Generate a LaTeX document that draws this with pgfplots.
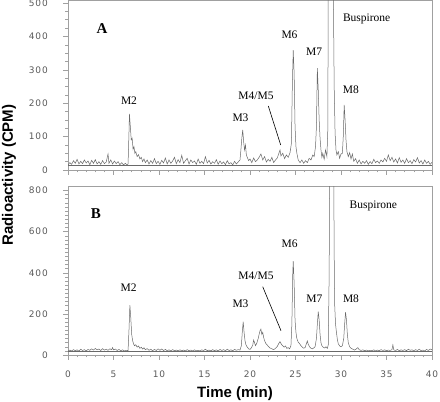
\documentclass[border=0pt]{standalone}
\usepackage{pgfplots}
\pgfplotsset{compat=1.18}
\usepackage{fontspec}
\setmainfont{Liberation Serif}
\newfontfamily\tickfont[LetterSpace=10]{DejaVu Sans}
\newfontfamily\labfont{Liberation Sans}
\definecolor{framec}{RGB}{160,160,160}
\definecolor{trace}{RGB}{105,105,105}
\definecolor{ticktext}{RGB}{90,90,90}
\pgfplotsset{chrom/.style={
  scale only axis, width=364bp, xmin=0, xmax=40,
  axis line style={draw=framec, line width=0.6bp},
  tick style={draw=framec, line width=0.5bp}, tick align=outside,
  major tick length=5bp, minor tick length=2.5bp,
  xtick={0,5,...,40}, minor x tick num=4,
  xtick pos=bottom, ytick pos=left,
  tick label style={font=\tickfont\fontsize{9bp}{10bp}\selectfont, text=ticktext},
  /pgf/number format/assume math mode=true,
  yticklabel style={anchor=east, inner sep=0pt},
  yticklabel shift=15bp,
  xticklabel style={anchor=north, inner sep=0pt},
  xticklabel shift=11bp,
  cycle list={{draw=trace, line width=0.5bp, mark=none}},
}}
\begin{document}
\begin{tikzpicture}
\path[use as bounding box] (0,0) rectangle (440bp,402bp);
% Panel A
\begin{axis}[chrom, at={(68bp,232bp)}, anchor=south west, height=170bp,
  ymin=0, ymax=509, ytick={0,100,...,500}, minor y tick num=3, xticklabels={}]
\addplot[draw=trace, line width=0.5bp, mark=none] coordinates {(0,15) (40,15)};
\addplot[draw=trace, line width=0.5bp, mark=none] table {
0.0 15
0.2 22
0.4 17
0.6 28
0.8 20
1.0 32
1.2 18
1.4 26
1.6 19
1.8 30
2.0 21
2.2 27
2.4 16
2.6 29
2.8 20
3.0 31
3.2 18
3.4 25
3.6 17
3.8 28
4.0 19
4.2 24
4.4 48
4.5 20
4.7 30
4.9 18
5.1 27
5.3 19
5.5 25
5.7 16
5.9 22
6.1 15
6.3 20
6.5 15
6.6 18
6.7 110
6.75 168
6.85 130
6.95 90
7.05 95
7.15 62
7.25 70
7.35 50
7.45 55
7.6 40
7.75 46
7.9 33
8.05 38
8.2 25
8.35 33
8.5 22
8.7 30
8.9 18
9.1 28
9.3 20
9.5 34
9.7 19
9.9 26
10.1 17
10.3 29
10.5 21
10.7 36
10.9 18
11.1 30
11.3 20
11.5 27
11.7 38
11.9 19
12.1 31
12.3 22
12.5 44
12.7 20
12.9 28
13.1 35
13.3 18
13.5 30
13.7 22
13.9 27
14.1 17
14.3 33
14.5 20
14.7 26
14.9 19
15.1 40
15.3 21
15.5 29
15.7 18
15.9 25
16.1 20
16.3 31
16.5 17
16.7 27
16.9 19
17.1 24
17.3 16
17.5 28
17.7 18
17.9 22
18.1 15
18.3 26
18.5 18
18.7 24
18.9 30
19.0 60
19.1 95
19.2 120
19.3 85
19.4 60
19.5 75
19.6 45
19.7 38
19.85 28
20.0 33
20.2 22
20.4 36
20.6 25
20.8 30
21.0 38
21.2 48
21.4 30
21.6 40
21.8 24
22.0 32
22.2 26
22.4 38
22.6 22
22.8 30
23.0 36
23.2 52
23.3 60
23.4 42
23.6 50
23.8 34
24.0 45
24.2 38
24.4 52
24.55 80
24.65 250
24.75 359
24.85 290
24.95 130
25.05 70
25.15 50
25.3 30
25.5 22
25.7 30
25.9 20
26.1 28
26.3 22
26.5 35
26.7 30
26.9 45
27.05 40
27.2 70
27.3 130
27.4 305
27.5 240
27.6 150
27.7 95
27.8 60
27.9 38
28.0 50
28.15 32
28.3 60
28.45 40
28.55 120
28.6 560
29.15 560
29.25 250
29.35 110
29.45 60
29.55 45
29.7 55
29.85 35
30.0 48
30.15 50
30.25 100
30.35 195
30.45 150
30.55 90
30.65 55
30.8 40
30.95 52
31.1 33
31.25 48
31.4 26
31.6 34
31.8 20
32.0 30
32.2 18
32.4 26
32.6 20
32.8 28
33.0 17
33.2 25
33.4 19
33.6 32
33.8 22
34.0 27
34.2 20
34.4 30
34.6 24
34.8 35
35.0 26
35.2 45
35.4 28
35.6 38
35.8 24
36.0 33
36.2 21
36.4 37
36.6 23
36.8 30
37.0 20
37.2 34
37.4 22
37.6 28
37.8 19
38.0 31
38.2 24
38.4 37
38.6 21
38.8 28
39.0 18
39.2 30
39.4 20
39.6 26
39.8 17
40.0 23
};
\end{axis}
% Panel B
\begin{axis}[chrom, at={(68bp,47bp)}, anchor=south west, height=169bp,
  ymin=0, ymax=822, ytick={0,200,...,800}, minor y tick num=9]
\addplot[draw=trace, line width=0.5bp, mark=none] coordinates {(0,19) (40,19)};
\addplot[draw=trace, line width=0.5bp, mark=none] table {
0.0 19
0.2 24
0.4 20
0.6 26
0.8 21
1.0 25
1.2 19
1.4 28
1.6 22
1.8 26
2.0 20
2.2 27
2.4 23
2.6 30
2.8 24
3.0 32
3.2 25
3.4 29
3.6 22
3.8 31
4.0 24
4.2 28
4.4 23
4.6 30
4.8 26
4.9 36
5.0 25
5.2 29
5.4 22
5.6 27
5.8 21
6.0 25
6.2 20
6.4 23
6.6 21
6.7 120
6.8 243
6.9 180
7.0 100
7.1 70
7.2 55
7.3 45
7.45 50
7.6 38
7.75 44
7.9 32
8.05 38
8.2 29
8.35 35
8.5 26
8.7 31
8.9 23
9.1 28
9.3 21
9.5 27
9.7 22
9.9 30
10.1 23
10.3 29
10.5 22
10.7 27
10.9 21
11.1 25
11.3 20
11.5 26
11.7 21
11.9 24
12.1 20
12.3 25
12.5 21
12.7 24
12.9 20
13.1 26
13.3 21
13.5 24
13.7 20
13.9 25
14.1 21
14.3 23
14.5 20
14.7 25
14.9 22
15.1 28
15.3 21
15.5 24
15.7 20
15.9 26
16.1 21
16.3 25
16.5 20
16.7 27
16.9 22
17.1 26
17.3 21
17.5 28
17.7 22
17.9 25
18.1 21
18.3 27
18.5 23
18.7 26
18.9 24
19.05 45
19.15 110
19.25 162
19.35 110
19.45 70
19.55 50
19.7 38
19.85 30
20.0 27
20.15 35
20.3 48
20.4 73
20.5 60
20.6 45
20.75 58
20.9 80
21.0 100
21.1 118
21.2 126
21.3 100
21.4 110
21.5 85
21.6 70
21.75 55
21.9 48
22.05 40
22.2 34
22.4 30
22.6 26
22.8 32
23.0 42
23.15 55
23.3 65
23.45 52
23.6 45
23.75 38
23.9 44
24.05 32
24.2 36
24.35 30
24.5 45
24.6 150
24.7 400
24.75 457
24.85 350
24.95 170
25.05 110
25.15 80
25.3 62
25.45 55
25.6 45
25.75 38
25.9 33
26.05 36
26.2 55
26.3 68
26.4 52
26.55 40
26.7 33
26.85 30
27.0 34
27.15 40
27.3 80
27.4 150
27.5 211
27.6 170
27.7 100
27.8 60
27.9 45
28.05 38
28.2 34
28.35 40
28.5 32
28.6 50
28.7 400
28.75 900
29.2 900
29.25 500
29.3 250
29.4 150
29.5 110
29.6 75
29.7 55
29.85 44
30.0 40
30.15 45
30.3 80
30.4 150
30.5 208
30.6 170
30.7 100
30.8 60
30.95 40
31.1 33
31.3 28
31.5 24
31.7 30
31.85 36
32.0 26
32.2 22
32.4 25
32.6 21
32.8 24
33.0 20
33.2 23
33.4 21
33.6 25
33.8 20
34.0 24
34.2 21
34.4 26
34.6 22
34.8 25
35.0 21
35.2 24
35.4 22
35.6 26
35.7 49
35.8 25
36.0 22
36.2 27
36.4 21
36.6 25
36.8 22
37.0 26
37.2 21
37.4 28
37.6 23
37.8 25
38.0 21
38.2 26
38.4 22
38.6 28
38.8 21
39.0 24
39.2 20
39.4 27
39.6 22
39.8 29
40.0 25
};
\end{axis}
% annotations
\begin{scope}[every node/.style={font=\fontsize{11.5bp}{13bp}\selectfont, inner sep=0pt}]
\node[font=\bfseries\fontsize{15bp}{17bp}\selectfont] at (102bp,373bp) {A};
\node at (129bp,301bp) {M2};
\node at (240.5bp,284.7bp) {M3};
\node at (256bp,306.3bp) {M4/M5};
\draw[black, line width=0.6bp] (268.3bp,296bp) -- (280.7bp,257bp);
\node at (289.5bp,367bp) {M6};
\node at (314.2bp,350.3bp) {M7};
\node at (350.8bp,312.7bp) {M8};
\node at (366.7bp,383bp) {Buspirone};
\node[font=\bfseries\fontsize{15bp}{17bp}\selectfont] at (95.8bp,188.7bp) {B};
\node at (128.7bp,114.7bp) {M2};
\node at (240.5bp,98.7bp) {M3};
\node at (256bp,126bp) {M4/M5};
\draw[black, line width=0.6bp] (262.7bp,115.3bp) -- (281bp,71.3bp);
\node at (289.7bp,158.7bp) {M6};
\node at (314.3bp,103.7bp) {M7};
\node at (351bp,103bp) {M8};
\node at (373.3bp,196bp) {Buspirone};
\end{scope}
\node[rotate=90, inner sep=0pt, font=\labfont\bfseries\fontsize{15bp}{17bp}\selectfont] at (9bp,227bp) {Radioactivity (CPM)};
\node[inner sep=0pt, font=\labfont\bfseries\fontsize{15bp}{17bp}\selectfont] at (235bp,8bp) {Time (min)};
\end{tikzpicture}
\end{document}
